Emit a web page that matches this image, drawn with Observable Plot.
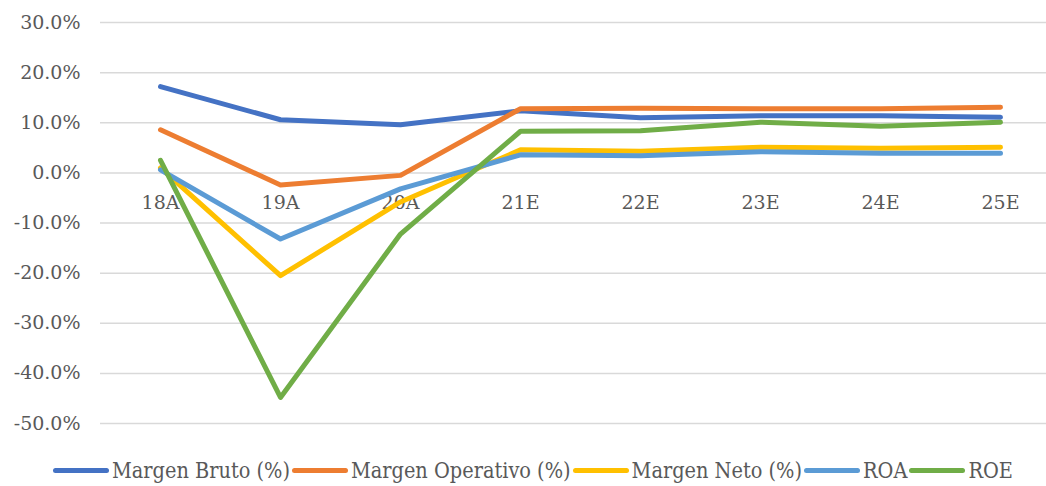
<!DOCTYPE html>
<html>
<head>
<meta charset="utf-8">
<script src="https://cdn.jsdelivr.net/npm/d3@7"></script>
<script src="https://cdn.jsdelivr.net/npm/@observablehq/plot@0.6"></script>
<style>
  body { margin: 0; background: #fff; }
  #chart { width: 1046px; height: 486px; position: relative; overflow: hidden; }
  .legend { position: absolute; left: 53px; top: 458px; display: flex; align-items: center;
            font-family: 'DejaVu Serif Condensed', 'DejaVu Serif', serif; font-stretch: condensed; font-size: 21.5px; color: #595959; white-space: nowrap; }
  .legend .sw { display: inline-block; width: 56px; height: 5px; border-radius: 3px; margin-right: 3px; }
  .legend .it { display: flex; align-items: center; margin-right: 2px; }
</style>
</head>
<body>
<div id="chart"></div>
<script>
const categories = ["18A", "19A", "20A", "21E", "22E", "23E", "24E", "25E"];
const seriesNames = ["Margen Bruto (%)", "Margen Operativo (%)", "Margen Neto (%)", "ROA", "ROE"];
const margenBruto     = [0.172, 0.106, 0.096, 0.124, 0.110, 0.114, 0.114, 0.111];
const margenOperativo = [0.086, -0.024, -0.005, 0.128, 0.129, 0.128, 0.128, 0.131];
const margenNeto      = [0.010, -0.205, -0.058, 0.046, 0.043, 0.051, 0.049, 0.051];
const roa             = [0.006, -0.132, -0.032, 0.036, 0.034, 0.042, 0.039, 0.039];
const roe             = [0.025, -0.448, -0.122, 0.083, 0.084, 0.101, 0.093, 0.101];
const yTicks = [-0.5, -0.4, -0.3, -0.2, -0.1, 0, 0.1, 0.2, 0.3];
const colors = ["#4472C4", "#ED7D31", "#FFC000", "#5B9BD5", "#70AD47"];

const allSeries = [margenBruto, margenOperativo, margenNeto, roa, roe];
const data = [];
allSeries.forEach((vals, si) => vals.forEach((v, i) => data.push({series: seriesNames[si], cat: categories[i], value: v})));

const fmt = d => (d * 100).toFixed(1) + "%";
const serif = "'DejaVu Serif', serif";

const plot = Plot.plot({
  width: 1046,
  height: 440,
  marginTop: 22,
  marginBottom: 17,
  marginLeft: 100,
  marginRight: 0,
  style: {fontFamily: serif, color: "#595959", background: "#fff"},
  x: {type: "point", domain: categories, range: [160, 1000], padding: 0, axis: null},
  y: {domain: [-0.5, 0.3], axis: null},
  color: {domain: seriesNames, range: colors},
  marks: [
    Plot.ruleY(yTicks, {stroke: "#D9D9D9", strokeWidth: 1.5}),
    Plot.axisY({ticks: yTicks, tickFormat: fmt, tickSize: 0, tickPadding: 20, fontSize: 19, fill: "#595959", label: null}),
    Plot.text(categories, {x: d => d, y: d => 0, dy: 30, fontSize: 19, fill: "#595959", fontFamily: serif}),
    Plot.line(data, {x: "cat", y: "value", z: "series", stroke: "series", strokeWidth: 5, strokeLinecap: "round", strokeLinejoin: "round"})
  ]
});

const chart = document.getElementById("chart");
chart.appendChild(plot);

const legend = document.createElement("div");
legend.className = "legend";
seriesNames.forEach((name, i) => {
  const it = document.createElement("span");
  it.className = "it";
  const sw = document.createElement("span");
  sw.className = "sw";
  sw.style.background = colors[i];
  const tx = document.createElement("span");
  tx.textContent = name;
  it.appendChild(sw);
  it.appendChild(tx);
  legend.appendChild(it);
});
chart.appendChild(legend);
</script>
</body>
</html>
